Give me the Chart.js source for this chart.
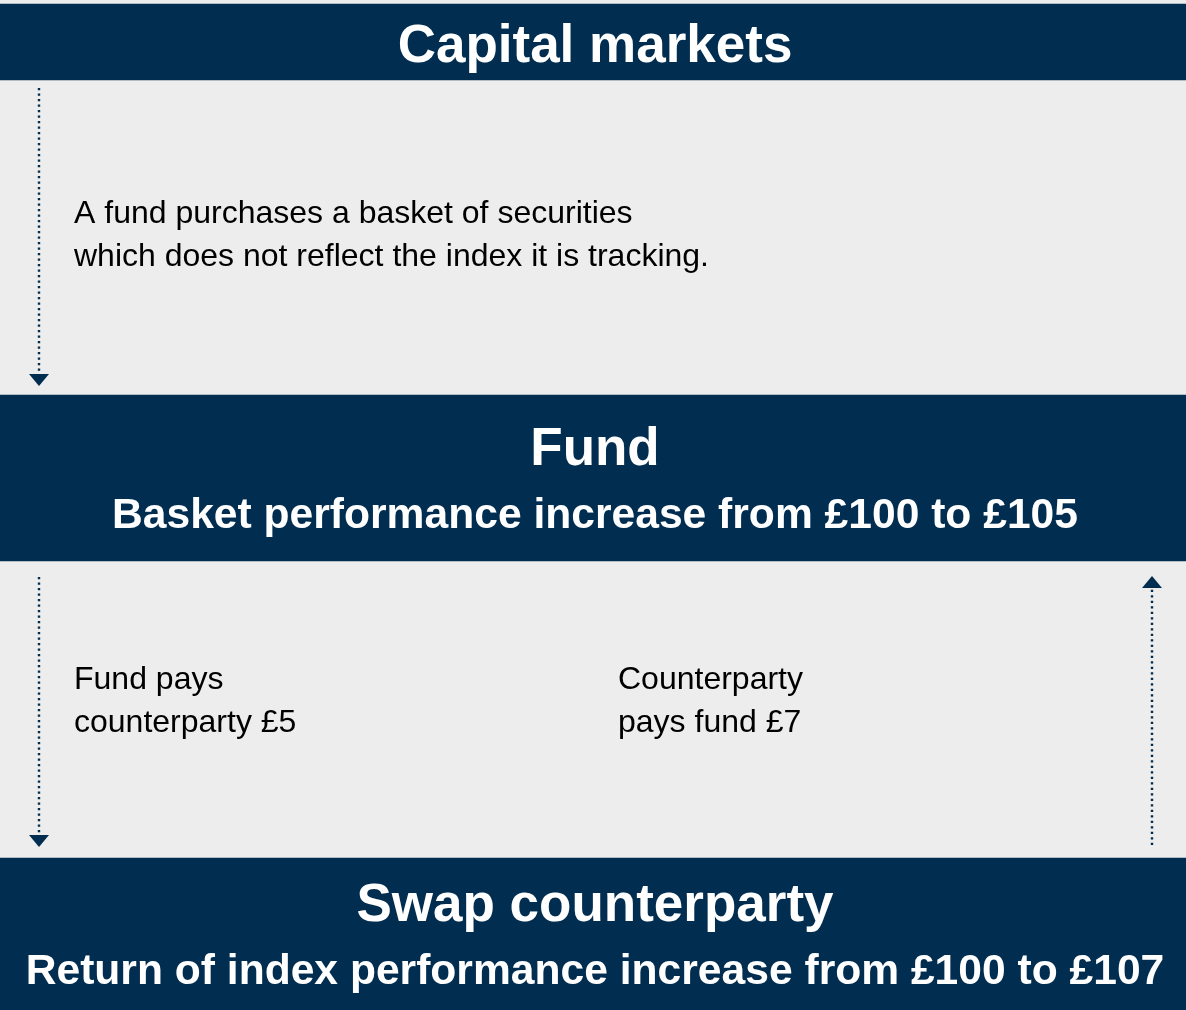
<!DOCTYPE html>
<html>
<head>
<meta charset="utf-8">
<script src="https://cdn.jsdelivr.net/npm/chart.js@4/dist/chart.umd.min.js"></script>
<style>
  html, body { margin: 0; padding: 0; background: #ededed; }
  #wrap { width: 1186px; height: 1010px; position: relative; }
</style>
</head>
<body>
<div id="wrap"><canvas id="flow" width="1186" height="1010"></canvas></div>
<script>
/* ------------------------------------------
 * DATA (diagram value space = 1186 x 1010)
 * ------------------------------------------ */
const panelTitles = ["Capital markets", "Fund", "Swap counterparty"];
const panelSubtitles = [
  "",
  "Basket performance increase from £100 to £105",
  "Return of index performance increase from £100 to £107"
];
const bandTop = [4, 395, 858];
const bandBottom = [80, 561, 1010];

const notes = [
  ["A fund purchases a basket of securities", "which does not reflect the index it is tracking."],
  ["Fund pays", "counterparty £5"],
  ["Counterparty", "pays fund £7"]
];

// dotted flow arrows: x, start of stem, end of stem, arrowhead centre, direction
const arrowX = [39, 39, 1152];
const arrowFrom = [88, 577, 845];
const arrowTo = [374, 835, 588];
const arrowHead = [380, 841, 582];
const arrowDir = ["down", "down", "up"];

/* ------------------------------------------
 * STYLE / LAYOUT
 * ------------------------------------------ */
const NAVY = "#002d50";
const FONT = "'Liberation Sans', Arial, sans-serif";

const layout = {
  titleBase: [62, 465, 921],
  subBase: [0, 528, 984],
  noteX: [74, 74, 618],
  noteBase: [223, 689, 689],
  noteGap: 43
};

const makeHead = dir => {
  const c = document.createElement("canvas");
  c.width = 20; c.height = 12;
  const g = c.getContext("2d");
  g.fillStyle = NAVY;
  g.beginPath();
  if (dir === "down") { g.moveTo(0, 0); g.lineTo(20, 0); g.lineTo(10, 12); }
  else { g.moveTo(10, 0); g.lineTo(20, 12); g.lineTo(0, 12); }
  g.closePath();
  g.fill();
  return c;
};
const heads = { down: makeHead("down"), up: makeHead("up") };

/* ------------------------------------------
 * TEXT PLUGIN
 * ------------------------------------------ */
const textPlugin = {
  id: "diagramText",
  afterDatasetsDraw(chart) {
    const { ctx, scales: { x, y } } = chart;
    const cx = x.getPixelForValue(595);
    ctx.save();
    ctx.textBaseline = "alphabetic";

    ctx.fillStyle = "#ffffff";
    ctx.textAlign = "center";
    panelTitles.forEach((t, i) => {
      ctx.font = `bold 53px ${FONT}`;
      ctx.fillText(t, cx, y.getPixelForValue(layout.titleBase[i]));
      if (panelSubtitles[i]) {
        ctx.font = `bold 42.6px ${FONT}`;
        ctx.fillText(panelSubtitles[i], cx, y.getPixelForValue(layout.subBase[i]));
      }
    });

    ctx.fillStyle = "#000000";
    ctx.textAlign = "left";
    ctx.font = `32px ${FONT}`;
    notes.forEach((lines, i) => {
      lines.forEach((line, j) => {
        ctx.fillText(line, x.getPixelForValue(layout.noteX[i]),
          y.getPixelForValue(layout.noteBase[i] + j * layout.noteGap));
      });
    });
    ctx.restore();
  }
};

/* ------------------------------------------
 * DATASETS
 * ------------------------------------------ */
const bandSet = {
  type: "bar",
  data: panelTitles.map((_, i) => ({ x: 593, y: [bandTop[i], bandBottom[i]] })),
  backgroundColor: NAVY,
  borderWidth: 0,
  barThickness: 1186,
  order: 2
};

const stemSets = arrowX.map((ax, i) => ({
  type: "line",
  data: [{ x: ax, y: arrowFrom[i] }, { x: ax, y: arrowTo[i] }],
  borderColor: NAVY,
  borderWidth: 2.4,
  borderDash: [2.2, 3.3],
  borderCapStyle: "butt",
  pointRadius: 0,
  fill: false,
  order: 1
}));

const headSet = {
  type: "scatter",
  data: arrowX.map((ax, i) => ({ x: ax, y: arrowHead[i] })),
  pointStyle: ctx => heads[arrowDir[ctx.dataIndex]],
  pointRadius: 6,
  order: 0
};

new Chart(document.getElementById("flow"), {
  type: "bar",
  data: { datasets: [bandSet, ...stemSets, headSet] },
  options: {
    responsive: false,
    animation: false,
    events: [],
    layout: { padding: 0, autoPadding: false },
    plugins: { legend: { display: false }, tooltip: { enabled: false } },
    scales: {
      x: { type: "linear", min: 0, max: 1186, offset: false, display: false },
      y: { type: "linear", min: 0, max: 1010, reverse: true, offset: false, display: false, beginAtZero: false }
    }
  },
  plugins: [textPlugin]
});
</script>
</body>
</html>
